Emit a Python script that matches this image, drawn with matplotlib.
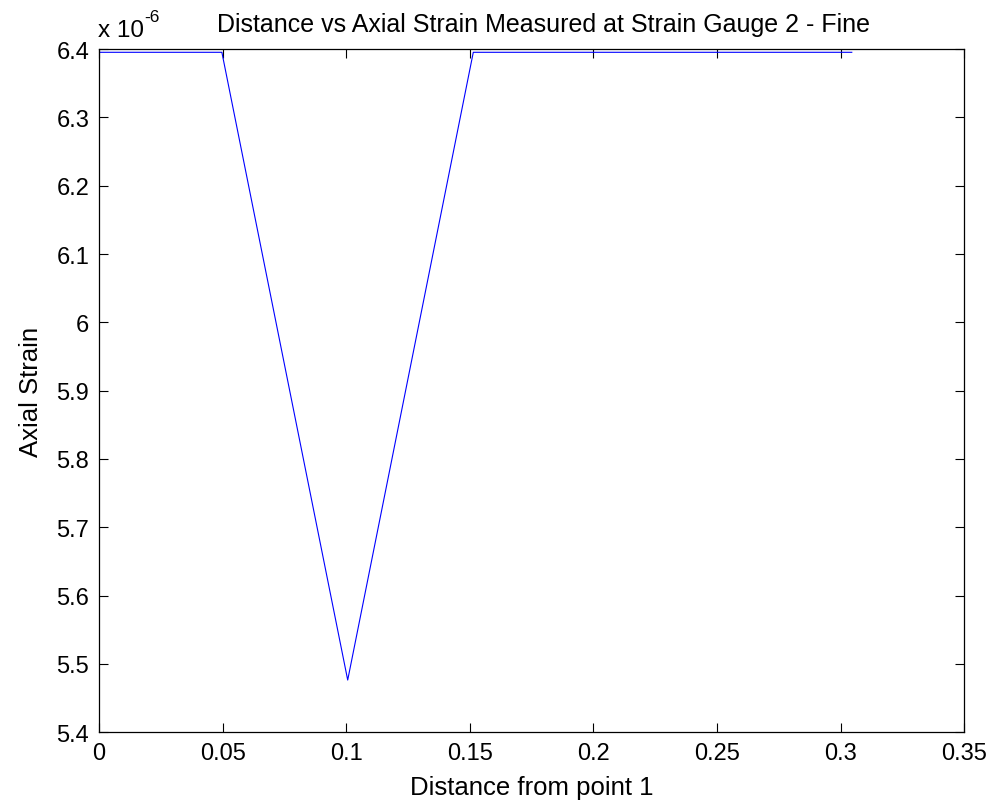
import matplotlib
matplotlib.use("Agg")
import matplotlib.pyplot as plt
from matplotlib.ticker import FuncFormatter

plt.rcParams['font.family'] = ['Liberation Sans', 'DejaVu Sans']

# Strain gauge 2 readings along the member (fine mesh)
distance = [0.0, 0.0497, 0.1006, 0.1514, 0.3045]
axial_strain = [6.3952e-6, 6.3952e-6, 5.4765e-6, 6.3952e-6, 6.3952e-6]

x_ticks = [0, 0.05, 0.1, 0.15, 0.2, 0.25, 0.3, 0.35]
y_ticks = [5.4e-6, 5.5e-6, 5.6e-6, 5.7e-6, 5.8e-6, 5.9e-6, 6.0e-6, 6.1e-6, 6.2e-6, 6.3e-6, 6.4e-6]

fig = plt.figure(figsize=(9.98, 8.12), dpi=100)
ax = fig.add_axes([0.0992, 0.0969, 0.8670, 0.8415])

ax.plot(distance, axial_strain, color=(0, 0, 1), linewidth=0.8)

ax.set_xlim(0, 0.35)
ax.set_ylim(5.4e-6, 6.4e-6)
ax.set_xticks(x_ticks)
ax.set_yticks(y_ticks)
ax.xaxis.set_major_formatter(FuncFormatter(lambda v, p: f"{v:g}"))
ax.yaxis.set_major_formatter(FuncFormatter(lambda v, p: f"{round(v * 1e6, 6):g}"))

ax.tick_params(direction='in', length=6.5, width=0.8, top=True, right=True,
               labelsize=17, pad=7, colors='black')
for s in ax.spines.values():
    s.set_linewidth(0.9)

ax.set_xlabel("Distance from point 1", fontsize=18.5, labelpad=8)
ax.set_ylabel("Axial Strain", fontsize=18.5, labelpad=10)
ax.set_title("Distance vs Axial Strain Measured at Strain Gauge 2 - Fine",
             fontsize=18, pad=13, x=0.514)

# exponent note above the y axis
ax.text(-0.001, 1.012, "x 10", transform=ax.transAxes, fontsize=17.5,
        ha='left', va='bottom')
ax.text(0.0525, 1.036, "-6", transform=ax.transAxes, fontsize=12.5,
        ha='left', va='bottom')

fig.savefig("out.png", dpi=100)
